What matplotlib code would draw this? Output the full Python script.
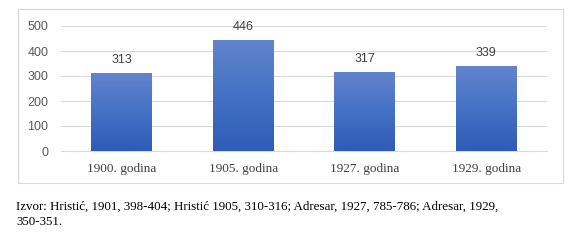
import numpy as np
import matplotlib.pyplot as plt
from matplotlib.patches import Rectangle
from matplotlib.colors import LinearSegmentedColormap

categories = ["1900. godina", "1905. godina", "1927. godina", "1929. godina"]
values = [313, 446, 317, 339]
y_ticks = [0, 100, 200, 300, 400, 500]
source_lines = ["Izvor: Hristić, 1901, 398-404; Hristić 1905, 310-316; Adresar, 1927, 785-786; Adresar, 1929,",
                "350-351."]

fig = plt.figure(figsize=(5.86, 2.52), dpi=100)

# outer chart frame
fig.patches.append(Rectangle((18 / 586, 1 - 183 / 252), 545 / 586, 174 / 252,
                             transform=fig.transFigure, fill=False,
                             edgecolor="#d9d9d9", linewidth=0.8))

ax = fig.add_axes([61 / 586, 1 - 151 / 252, 486 / 586, 125 / 252])

grad = LinearSegmentedColormap.from_list("g", ["#2f5bb7", "#4472c4", "#6384cd"])
x = np.arange(len(categories))
bars = ax.bar(x, values, width=0.5, color="none", edgecolor="none", zorder=3)
gradient = np.linspace(0, 1, 256).reshape(-1, 1)
for b in bars:
    x0, y0 = b.get_x(), b.get_y()
    im = ax.imshow(gradient, cmap=grad, origin="lower", aspect="auto",
                   extent=[x0, x0 + b.get_width(), y0, y0 + b.get_height()],
                   zorder=3)
    im.set_clip_path(b)

for xi, v in zip(x, values):
    ax.annotate(str(v), (xi, v), xytext=(0, 5), textcoords="offset points",
                ha="center", va="bottom", fontsize=9, color="#404040",
                family="Liberation Sans")

ax.set_xlim(-0.5, len(categories) - 0.5)
ax.set_ylim(0, 500)
ax.set_yticks(y_ticks)
ax.set_xticks(x)
ax.set_xticklabels(categories, family="Liberation Serif", fontsize=9.5, color="#404040")
ax.set_yticklabels([str(t) for t in y_ticks], family="Liberation Sans", fontsize=9, color="#595959")
ax.tick_params(axis="both", length=0)
ax.tick_params(axis="y", pad=9)
ax.tick_params(axis="x", pad=8.5)
ax.grid(axis="y", color="#d9d9d9", linewidth=0.8, zorder=0)
ax.set_axisbelow(True)
for s in ["top", "right", "left"]:
    ax.spines[s].set_visible(False)
ax.spines["bottom"].set_color("#d9d9d9")
ax.spines["bottom"].set_linewidth(0.8)

for i, line in enumerate(source_lines):
    fig.text(16 / 586, 1 - (210 + 15 * i) / 252, line, family="Liberation Serif",
             fontsize=9.4, color="black", ha="left", va="baseline")

fig.savefig("out.png", dpi=100)
